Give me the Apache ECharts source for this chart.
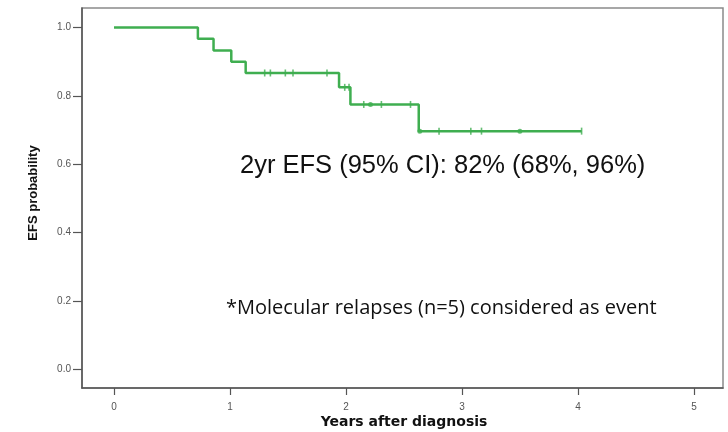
<!DOCTYPE html>
<html>
<head>
<meta charset="utf-8">
<script src="https://cdn.jsdelivr.net/npm/echarts@6/dist/echarts.min.js"></script>
<style>
  html, body { margin: 0; padding: 0; background: #ffffff; }
  #chart { width: 728px; height: 432px; }
</style>
</head>
<body>
<div id="chart"></div>
<script>
// Kaplan–Meier event-free survival: step change points
const stepTimes    = [0, 0.723, 0.858, 1.011, 1.135, 1.940, 2.038, 2.627, 4.031];
const stepSurvival = [1.000, 0.967, 0.933, 0.900, 0.867, 0.825, 0.775, 0.697, 0.697];

// Censored observations: time, curve level at that time, number censored
const censorTimes    = [1.299, 1.348, 1.477, 1.543, 1.836, 1.989, 2.026, 2.153, 2.211, 2.305, 2.556, 2.636, 2.802, 3.076, 3.168, 3.499, 4.031];
const censorSurvival = [0.867, 0.867, 0.867, 0.867, 0.867, 0.825, 0.825, 0.775, 0.775, 0.775, 0.775, 0.697, 0.697, 0.697, 0.697, 0.697, 0.697];
const censorCounts   = [1, 1, 1, 1, 1, 1, 1, 1, 2, 1, 1, 2, 1, 1, 1, 2, 1];

// Axis ticks
const xTicks = [0, 1, 2, 3, 4, 5];
const yTicks = [0, 0.2, 0.4, 0.6, 0.8, 1.0];

const xTitle = 'Years after diagnosis';
const yTitle = 'EFS probability';
const noteEstimate = '2yr EFS (95% CI): 82% (68%, 96%)';
const noteEvents = '*Molecular relapses (n=5) considered as event';

const GREEN = '#3fae50';
const AXIS = '#555555';

const chart = echarts.init(document.getElementById('chart'), null, { renderer: 'canvas' });

const curveData = stepTimes.map((t, i) => [t, stepSurvival[i]]);
const censorData = censorTimes.map((t, i) => ({
  value: [t, censorSurvival[i]],
  symbol: censorCounts[i] > 1 ? 'circle' : 'rect',
  symbolSize: censorCounts[i] > 1 ? 5 : [1.6, 7]
}));

chart.setOption({
  animation: false,
  backgroundColor: '#ffffff',
  grid: {
    left: 82, right: 5, top: 8, bottom: 44,
    show: true, borderColor: '#8a8a8a', borderWidth: 1.5, backgroundColor: '#ffffff'
  },
  xAxis: {
    type: 'value',
    min: -0.276, max: 5.25,
    axisLine: { show: true, onZero: false, lineStyle: { color: AXIS, width: 1.5 } },
    axisTick: { show: true, inside: false, length: 7, customValues: xTicks, lineStyle: { color: AXIS, width: 1.2 } },
    axisLabel: {
      customValues: xTicks, margin: 14, color: '#555555',
      fontFamily: '"Liberation Sans", Arial, sans-serif', fontSize: 10,
      formatter: v => String(v)
    },
    splitLine: { show: false }
  },
  yAxis: {
    type: 'value',
    min: -0.054, max: 1.057,
    axisLine: { show: true, onZero: false, lineStyle: { color: AXIS, width: 1.5 } },
    axisTick: { show: true, inside: false, length: 9, customValues: yTicks, lineStyle: { color: AXIS, width: 1.2 } },
    axisLabel: {
      customValues: yTicks, margin: 11, color: '#555555',
      fontFamily: '"Liberation Sans", Arial, sans-serif', fontSize: 10,
      formatter: v => v.toFixed(1)
    },
    splitLine: { show: false }
  },
  series: [
    {
      name: 'EFS',
      type: 'line',
      step: 'end',
      data: curveData,
      showSymbol: false,
      lineStyle: { color: GREEN, width: 2.5 },
      z: 3
    },
    {
      name: 'Censored',
      type: 'scatter',
      data: censorData,
      itemStyle: { color: GREEN },
      z: 4
    }
  ],
  graphic: [
    {
      type: 'text', x: 240, y: 166,
      style: {
        text: noteEstimate, fill: '#111111',
        font: '25.5px "Liberation Sans", Arial, sans-serif',
        textAlign: 'left', textVerticalAlign: 'middle'
      }
    },
    {
      type: 'text', x: 226, y: 308.5,
      style: {
        text: noteEvents, fill: '#111111',
        font: '20px "Open Sans", sans-serif',
        textAlign: 'left', textVerticalAlign: 'middle'
      }
    },
    {
      type: 'text', x: 404, y: 422.5,
      style: {
        text: xTitle, fill: '#111111',
        font: 'bold 14px "DejaVu Sans", Verdana, sans-serif',
        textAlign: 'center', textVerticalAlign: 'middle'
      }
    },
    {
      type: 'text', x: 33.5, y: 193, rotation: Math.PI / 2,
      style: {
        text: yTitle, fill: '#111111',
        font: 'bold 13px "Liberation Sans", Arial, sans-serif',
        textAlign: 'center', textVerticalAlign: 'middle'
      }
    }
  ]
});
</script>
</body>
</html>
